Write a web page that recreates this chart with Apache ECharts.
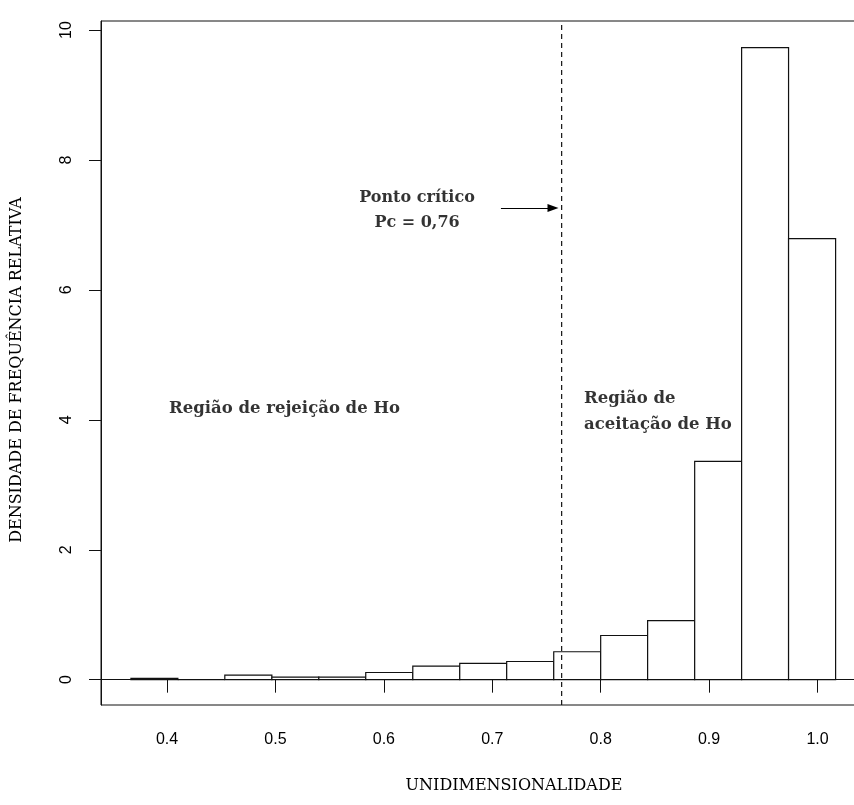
<!DOCTYPE html>
<html>
<head>
<meta charset="utf-8">
<script src="https://cdn.jsdelivr.net/npm/echarts@6/dist/echarts.min.js"></script>
<style>
  html, body { margin: 0; padding: 0; background: #ffffff; }
  #chart { width: 854px; height: 805px; }
</style>
</head>
<body>
<div id="chart"></div>
<script>
// Histogram bin edges (15 bins) and relative frequency density per bin
const binEdges = [0.3667, 0.41, 0.4533, 0.4967, 0.54, 0.5833, 0.6267, 0.67,
                  0.7133, 0.7567, 0.8, 0.8433, 0.8867, 0.93, 0.9733, 1.0167];
const density  = [0.02, 0, 0.07, 0.04, 0.04, 0.11, 0.21, 0.25,
                  0.28, 0.43, 0.68, 0.91, 3.36, 9.73, 6.79];

const xTicks = [0.4, 0.5, 0.6, 0.7, 0.8, 0.9, 1.0];
const yTicks = [0, 2, 4, 6, 8, 10];

// Critical point of the test
const criticalPoint = 0.764;

// Axis extents of the plotting region
const xMin = 0.3391, xMax = 1.101;
const yMin = -0.39, yMax = 10.14;

const serif = '"DejaVu Serif", "Liberation Serif", serif';
const sans = '"Liberation Sans", Arial, sans-serif';

const bins = density.map((d, i) => [binEdges[i], binEdges[i + 1], d]);

const chart = echarts.init(document.getElementById('chart'), null, { renderer: 'canvas' });

chart.setOption({
  animation: false,
  backgroundColor: '#ffffff',
  grid: {
    left: 101, right: -73, top: 21, bottom: 100,
    outerBoundsMode: 'none',
    show: true, borderColor: '#111', borderWidth: 1, backgroundColor: 'transparent'
  },
  xAxis: {
    type: 'value',
    min: xMin, max: xMax,
    name: 'UNIDIMENSIONALIDADE',
    nameLocation: 'middle',
    nameGap: 73,
    nameTextStyle: { fontFamily: serif, fontSize: 16, color: '#000' },
    axisLine: { show: true, lineStyle: { color: '#111', width: 1 } },
    axisTick: { show: true, length: 13, inside: false, customValues: xTicks, lineStyle: { color: '#111' } },
    axisLabel: {
      customValues: xTicks,
      margin: 27,
      fontFamily: sans, fontSize: 16, color: '#000',
      formatter: v => v.toFixed(1)
    },
    splitLine: { show: false }
  },
  yAxis: {
    type: 'value',
    min: yMin, max: yMax,
    name: 'DENSIDADE DE FREQUÊNCIA RELATIVA',
    nameLocation: 'middle',
    nameGap: 76,
    nameRotate: 90,
    nameTextStyle: { fontFamily: serif, fontSize: 16, color: '#000', padding: [0, 14, 0, 0] },
    axisLine: { show: true, lineStyle: { color: '#111', width: 1 } },
    axisTick: { show: true, length: 12, customValues: yTicks, lineStyle: { color: '#111' } },
    axisLabel: {
      customValues: yTicks,
      rotate: 90,
      margin: 26,
      fontFamily: sans, fontSize: 16, color: '#000',
      formatter: v => String(Math.round(v))
    },
    splitLine: { show: false }
  },
  series: [
    {
      // histogram bars
      type: 'custom',
      data: bins,
      encode: { x: [0, 1], y: 2 },
      renderItem: function (params, api) {
        const p0 = api.coord([api.value(0), 0]);
        const p1 = api.coord([api.value(1), api.value(2)]);
        return {
          type: 'rect',
          shape: { x: p0[0], y: p1[1], width: p1[0] - p0[0], height: p0[1] - p1[1] },
          style: { fill: '#ffffff', stroke: '#111', lineWidth: 1.2 }
        };
      },
      z: 2
    },
    {
      // dashed vertical line at the critical point
      type: 'line',
      data: [[criticalPoint, yMin], [criticalPoint, yMax]],
      symbol: 'none',
      lineStyle: { color: '#111', width: 1.2, type: [5, 4] },
      z: 3,
      markLine: {
        silent: true,
        symbol: ['none', 'triangle'],
        symbolSize: [8, 11],
        label: { show: false },
        lineStyle: { color: '#000', width: 1.2, type: 'solid' },
        data: [[{ coord: [0.708, 7.26] }, { coord: [0.756, 7.26] }]]
      }
    },
    {
      // annotation texts
      type: 'scatter',
      symbolSize: 0,
      z: 4,
      label: {
        show: true,
        fontFamily: serif,
        fontWeight: 'bold',
        fontSize: 16,
        color: '#000',
        formatter: p => p.data.text
      },
      data: [
        { value: [0.6306, 7.23], text: 'Ponto crítico\nPc = 0,76',
          label: { position: 'inside', align: 'center', lineHeight: 25 } },
        { value: [0.4018, 4.17], text: 'Região de rejeição de Ho',
          label: { position: 'inside', align: 'left', fontSize: 16.5 } },
        { value: [0.7847, 4.13], text: 'Região de\naceitação de Ho',
          label: { position: 'inside', align: 'left', lineHeight: 26, fontSize: 16.5 } }
      ]
    }
  ]
});
</script>
</body>
</html>
